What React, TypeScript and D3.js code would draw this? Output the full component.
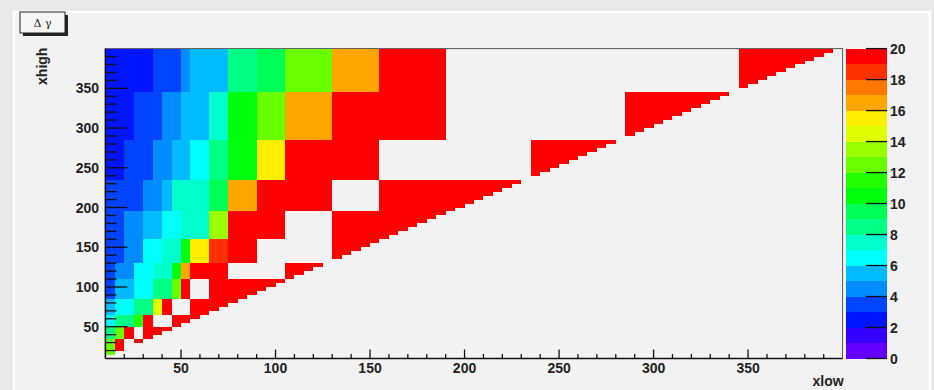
import React, { useEffect, useRef } from 'react';
import * as d3 from 'd3';

// xlow / xhigh are binned in steps of 5 between 10 and 400
const binWidth = 5;
const axisMin = 10;
const axisMax = 400;

// xhigh bands, top to bottom
const rowLow = [345, 285, 235, 195, 160, 130, 110, 85, 65, 50, 35, 10];
const rowHigh = [400, 345, 285, 235, 195, 160, 130, 110, 85, 65, 50, 35];

// per band: upper xlow edge of each block, and the block value (null = empty)
const rowEdges = [
  [35, 50, 55, 75, 90, 105, 130, 155, 190, 345, 400],
  [25, 40, 50, 65, 75, 90, 105, 130, 190, 285, 345],
  [20, 35, 45, 55, 65, 75, 90, 105, 155, 235, 285],
  [30, 40, 45, 65, 75, 90, 130, 155, 235],
  [20, 30, 40, 50, 65, 75, 105, 130, 195],
  [20, 30, 40, 50, 55, 65, 75, 90, 130, 160],
  [15, 25, 35, 45, 50, 55, 75, 105, 130],
  [15, 25, 35, 45, 50, 55, 65, 110],
  [15, 25, 35, 40, 45, 55, 85],
  [15, 25, 30, 35, 45, 65],
  [15, 20, 25, 30, 50],
  [15, 20, 25, 35],
];
const rowValues = [
  [2.5, 3.5, 4.5, 5.5, 8.5, 9.5, 12.5, 16.5, 19.5, null, 19.5],
  [2.5, 3.5, 4.5, 5.5, 7.5, 10.5, 12.5, 16.5, 19.5, null, 19.5],
  [2.5, 3.5, 4.5, 5.5, 6.5, 8.5, 10.5, 15.5, 19.5, null, 19.5],
  [3.5, 4.5, 5.5, 7.5, 9.5, 16.5, 19.5, null, 19.5],
  [3.5, 4.5, 5.5, 6.5, 7.5, 13.5, 19.5, null, 19.5],
  [3.5, 4.5, 6.5, 7.5, 10.5, 15.5, 18.5, 19.5, null, 19.5],
  [3.5, 4.5, 6.5, 7.5, 10.5, 16.5, 19.5, null, 19.5],
  [3.5, 5.5, 6.5, 8.5, 12.5, 19.5, null, 19.5],
  [5.5, 6.5, 8.5, 14.5, 19.5, null, 19.5],
  [6.5, 8.5, 11.5, 19.5, null, 19.5],
  [8.5, 12.5, 19.5, null, 19.5],
  [12.5, 19.5, null, 19.5],
];

const zMin = 0;
const zMax = 20;
const zLevels = 20;
const zTicks = [0, 2, 4, 6, 8, 10, 12, 14, 16, 18, 20];
const axisTicks = [50, 100, 150, 200, 250, 300, 350];

const font = '"Liberation Sans", Arial, sans-serif';

// old ROOT "pretty" palette: 50 hues from violet to red
const paletteColor = (v: number) => {
  const level = Math.max(0, Math.min(zLevels - 1, Math.floor(((v - zMin) / (zMax - zMin)) * zLevels)));
  const idx = Math.floor((level + 0.99) * 50 / zLevels);
  const hue = 280 - (idx + 1) * 5.6;
  return d3.hsl(hue, 1, 0.5).formatHex();
};

const App = () => {
  const svgRef = useRef<SVGSVGElement>(null);

  useEffect(() => {
    const W = 934;
    const H = 390;
    const frame = { left: 105.4, right: 842.6, top: 48.6, bottom: 358.5 };

    const root = d3.select(svgRef.current);
    root.selectAll('*').remove();
    root.attr('width', W).attr('height', H);

    // canvas + pad
    root.append('rect').attr('width', W).attr('height', H).attr('fill', '#e9e9e9');
    root.append('rect').attr('x', 14).attr('y', 12).attr('width', 916).attr('height', 390)
      .attr('fill', '#f2f2f2').attr('stroke', '#ffffff').attr('stroke-width', 2.5);

    const x = d3.scaleLinear().domain([axisMin, axisMax]).range([frame.left, frame.right]);
    const y = d3.scaleLinear().domain([axisMin, axisMax]).range([frame.bottom, frame.top]);

    // frame
    root.append('rect')
      .attr('x', frame.left).attr('y', frame.top)
      .attr('width', frame.right - frame.left).attr('height', frame.bottom - frame.top)
      .attr('fill', '#f3f3f3').attr('stroke', '#555').attr('stroke-width', 1);

    // cells: only xlow bins below the xhigh bin are filled
    const cells: { x0: number; x1: number; y0: number; y1: number; v: number }[] = [];
    rowLow.forEach((lo, r) => {
      const edges = rowEdges[r];
      const vals = rowValues[r];
      for (let yb = lo; yb < rowHigh[r]; yb += binWidth) {
        let start = axisMin;
        edges.forEach((e, s) => {
          const end = Math.min(e, yb);
          const v = vals[s];
          if (v !== null && end > start) cells.push({ x0: start, x1: end, y0: yb, y1: yb + binWidth, v });
          start = e;
        });
      }
    });

    root.append('g')
      .attr('shape-rendering', 'crispEdges')
      .selectAll('rect')
      .data(cells)
      .enter()
      .append('rect')
      .attr('x', d => x(d.x0))
      .attr('y', d => y(d.y1))
      .attr('width', d => x(d.x1) - x(d.x0))
      .attr('height', d => y(d.y0) - y(d.y1))
      .attr('fill', d => paletteColor(d.v));

    // axes (ROOT style ticks inside the frame)
    const axes = root.append('g').attr('stroke', '#111').attr('stroke-width', 1.3);
    const minor = d3.range(20, 400, 10);
    minor.forEach(t => {
      const major = t % 50 === 0;
      axes.append('line')
        .attr('x1', x(t)).attr('x2', x(t))
        .attr('y1', frame.bottom).attr('y2', frame.bottom - (major ? 9 : 4.5));
      axes.append('line')
        .attr('x1', frame.left).attr('x2', frame.left + (major ? 22 : 11))
        .attr('y1', y(t)).attr('y2', y(t));
    });
    axes.append('line').attr('x1', frame.left).attr('x2', frame.right)
      .attr('y1', frame.bottom).attr('y2', frame.bottom).attr('stroke-width', 1.5);
    axes.append('line').attr('x1', frame.left).attr('x2', frame.left)
      .attr('y1', frame.top).attr('y2', frame.bottom).attr('stroke-width', 1.5);

    const labelStyle = (sel: any) => sel
      .style('font-family', font).style('font-size', '14px').style('font-weight', 'bold').attr('fill', '#222');

    root.append('g').selectAll('text').data(axisTicks).enter().append('text')
      .attr('x', d => x(d)).attr('y', 373)
      .attr('text-anchor', 'middle')
      .call(labelStyle)
      .text(d => d);

    root.append('g').selectAll('text').data(axisTicks).enter().append('text')
      .attr('x', 99).attr('y', d => y(d) + 5)
      .attr('text-anchor', 'end')
      .call(labelStyle)
      .text(d => d);

    root.append('text')
      .attr('x', frame.right + 1).attr('y', 386)
      .attr('text-anchor', 'end')
      .call(labelStyle)
      .text('xlow');

    root.append('text')
      .attr('transform', `translate(47, ${frame.top - 1}) rotate(-90)`)
      .attr('text-anchor', 'end')
      .call(labelStyle)
      .text('xhigh');

    // palette (color bar)
    const bar = { left: 846, right: 887 };
    const z = d3.scaleLinear().domain([zMin, zMax]).range([frame.bottom, frame.top]);
    const levels = d3.range(zLevels).map(i => zMin + (i * (zMax - zMin)) / zLevels);
    root.append('g')
      .attr('shape-rendering', 'crispEdges')
      .selectAll('rect')
      .data(levels)
      .enter()
      .append('rect')
      .attr('x', bar.left)
      .attr('y', d => z(d + (zMax - zMin) / zLevels))
      .attr('width', bar.right - bar.left)
      .attr('height', d => z(d) - z(d + (zMax - zMin) / zLevels))
      .attr('fill', d => paletteColor(d + 0.5));

    root.append('g').attr('stroke', '#111').attr('stroke-width', 1.3)
      .selectAll('line').data(zTicks).enter().append('line')
      .attr('x1', bar.right - 21).attr('x2', bar.right)
      .attr('y1', d => z(d)).attr('y2', d => z(d));

    root.append('g').selectAll('text').data(zTicks).enter().append('text')
      .attr('x', 890).attr('y', d => z(d) + 5)
      .attr('text-anchor', 'start')
      .call(labelStyle)
      .text(d => d);

    // title box
    root.append('rect').attr('x', 23).attr('y', 15).attr('width', 45).attr('height', 21).attr('fill', '#222');
    root.append('rect').attr('x', 20).attr('y', 12).attr('width', 45).attr('height', 21)
      .attr('fill', '#f6f6f6').attr('stroke', '#222').attr('stroke-width', 1);
    root.append('text')
      .attr('x', 42.5).attr('y', 26.5)
      .attr('text-anchor', 'middle')
      .style('font-family', '"DejaVu Serif", serif').style('font-size', '11px').attr('fill', '#222')
      .text('Δ γ');
  }, []);

  return <svg ref={svgRef} style={{ position: 'absolute', left: 0, top: 0 }}></svg>;
};

export default App;
